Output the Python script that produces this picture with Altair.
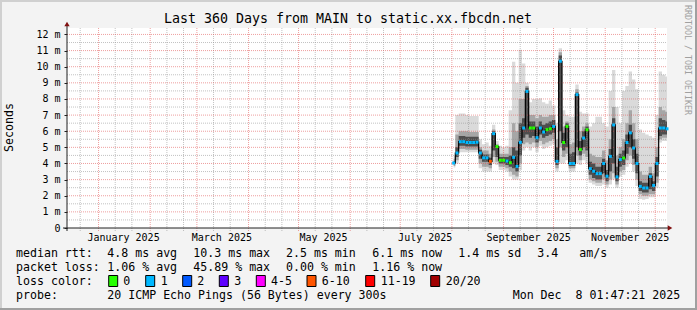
import altair as alt
import pandas as pd

# ---------------- data ----------------
START = pd.Timestamp("2024-12-13 01:47:21")   # graph start (end = Dec 8 2025 01:47:21)
SPAN_DAYS = 360

day = list(range(232, 361, 2))   # days since START (2-day resolution)

median_ms = [4.03, 4.65, 5.35, 5.35, 5.3, 5.3, 5.3, 5.32, 4.65, 4.35,
             4.35, 4.13, 5.85, 5.05, 4.2, 4.2, 4.15, 4.05, 4.38, 3.82,
             5.31, 6.2, 8.47, 6.2, 6.2, 5.6, 6.2, 5.95, 6.1, 6.15,
             6.3, 4.13, 10.34, 5.3, 6.3, 4.0, 4.0, 8.27, 4.86, 5.58,
             6.09, 3.68, 3.52, 3.37, 3.37, 4.0, 3.21, 4.44, 6.39, 3.17,
             4.24, 4.34, 5.3, 5.9, 4.96, 4.0, 2.58, 2.48, 2.48, 3.2,
             2.64, 4.0, 6.2, 6.2, 6.15]

loss = ["1", "1", "1", "1", "1", "1", "1", "1", "1", "1",
        "1", "6-10", "1", "0", "0", "0", "1", "0", "1", "1",
        "1", "1", "1", "0", "0", "1", "1", "1", "0", "0",
        "1", "1", "1", "0", "0", "1", "1", "1", "0", "1",
        "0", "1", "1", "1", "1", "1", "1", "1", "1", "1",
        "1", "0", "1", "1", "1", "1", "1", "1", "1", "1",
        "1", "1", "1", "1", "1"]

smoke_max = [4.5, 7.0, 7.1, 7.1, 7.0, 6.95, 6.95, 6.95, 5.5, 5.2,
             5.3, 5.1, 6.4, 5.4, 5.1, 5.0, 5.1, 7.3, 10.3, 9.0,
             11.05, 10.2, 9.0, 7.8, 8.0, 8.0, 8.05, 7.8, 7.7, 7.9,
             7.6, 6.5, 11.15, 7.3, 7.0, 6.9, 6.9, 8.9, 7.2, 7.1,
             7.1, 6.3, 6.5, 6.9, 6.9, 6.5, 6.3, 8.5, 9.8, 7.5,
             6.5, 8.5, 8.8, 9.7, 9.2, 8.6, 6.1, 5.9, 5.8, 5.7,
             5.6, 7.0, 9.7, 9.5, 9.4]
mid_hi = [4.3, 5.8, 6.0, 6.0, 6.0, 5.95, 5.95, 5.95, 5.0, 4.8,
          4.8, 4.6, 6.1, 5.2, 4.6, 4.6, 4.6, 5.0, 6.5, 6.0,
          8.0, 8.0, 8.8, 7.0, 7.0, 6.8, 7.0, 6.9, 6.9, 7.0,
          7.0, 5.5, 10.9, 6.3, 6.6, 5.2, 5.3, 8.6, 6.0, 6.3,
          6.5, 4.6, 4.5, 4.4, 4.4, 4.8, 4.2, 5.5, 7.5, 4.5,
          5.0, 5.5, 6.5, 7.3, 6.5, 5.5, 3.5, 3.3, 3.3, 3.8,
          3.4, 5.0, 7.5, 7.3, 7.2]
core_hi = [4.15, 5.0, 5.7, 5.7, 5.65, 5.65, 5.65, 5.65, 4.85, 4.55,
           4.55, 4.35, 6.0, 5.1, 4.4, 4.4, 4.4, 4.5, 5.0, 4.8,
           6.5, 6.8, 8.7, 6.6, 6.6, 6.3, 6.6, 6.4, 6.5, 6.6,
           6.7, 5.0, 10.7, 5.9, 6.5, 4.6, 4.7, 8.4, 5.4, 6.0,
           6.3, 4.1, 4.0, 3.8, 3.8, 4.3, 3.6, 4.9, 6.8, 3.8,
           4.6, 4.8, 5.8, 6.4, 5.5, 4.6, 2.9, 2.8, 2.8, 3.4,
           2.9, 4.4, 6.8, 6.7, 6.6]
core_lo = [3.95, 4.4, 5.1, 5.1, 5.05, 5.05, 5.05, 5.05, 4.3, 4.1,
           4.1, 3.9, 4.8, 4.4, 4.0, 4.0, 3.9, 3.8, 3.7, 3.5,
           4.5, 5.6, 5.8, 5.6, 5.7, 5.3, 5.8, 5.6, 5.7, 5.8,
           5.9, 3.9, 6.0, 4.8, 5.0, 3.85, 3.85, 5.0, 4.5, 5.0,
           4.8, 3.3, 3.1, 3.0, 3.0, 3.4, 2.9, 3.5, 4.0, 2.9,
           3.8, 3.9, 4.6, 5.0, 4.3, 3.4, 2.3, 2.2, 2.2, 2.4,
           2.3, 3.2, 5.7, 5.8, 5.8]
mid_lo = [3.85, 4.2, 4.9, 4.9, 4.85, 4.85, 4.85, 4.85, 4.0, 3.8,
          3.8, 3.7, 4.4, 4.1, 3.8, 3.8, 3.7, 3.5, 3.3, 3.2,
          4.0, 5.2, 5.3, 5.2, 5.3, 5.0, 5.4, 5.2, 5.3, 5.4,
          5.5, 3.7, 5.0, 4.4, 4.6, 3.7, 3.7, 4.5, 4.2, 4.6,
          4.4, 3.0, 2.9, 2.8, 2.8, 3.0, 2.7, 3.0, 3.4, 2.7,
          3.5, 3.6, 4.2, 4.5, 3.9, 3.0, 2.1, 2.0, 2.0, 2.1,
          2.1, 2.8, 5.5, 5.6, 5.6]
smoke_min = [3.75, 4.0, 4.7, 4.7, 4.7, 4.7, 4.7, 4.7, 3.7, 3.5,
             3.5, 3.5, 4.0, 3.9, 3.6, 3.6, 3.5, 3.2, 3.0, 3.0,
             3.6, 4.8, 5.0, 4.8, 5.0, 4.7, 5.1, 4.9, 5.0, 5.1,
             5.2, 3.5, 4.0, 4.0, 4.2, 3.5, 3.5, 4.0, 3.9, 4.2,
             4.0, 2.8, 2.7, 2.6, 2.6, 2.7, 2.5, 2.7, 3.0, 2.5,
             3.2, 3.3, 3.8, 4.0, 3.5, 2.6, 1.8, 1.75, 1.8, 1.9,
             1.9, 2.5, 5.3, 5.4, 5.4]

loss_labels = ["0", "1", "2", "3", "4-5", "6-10", "11-19", "20/20"]
loss_colors = ["#26ff00", "#00b8ff", "#0059ff", "#5e00ff", "#ff00ff", "#ff5500", "#ff0000", "#a10000"]

month_label_dates = ["2025-01-16", "2025-03-16", "2025-05-16", "2025-07-16", "2025-09-16", "2025-11-16"]
month_label_text = ["January 2025", "March 2025", "May 2025", "July 2025", "September 2025", "November 2025"]

title_text = "Last 360 Days from MAIN to static.xx.fbcdn.net"
y_title = "Seconds"
watermark = "RRDTOOL / TOBI OETIKER"

stat_rows = ["median rtt:", "packet loss:", "loss color:", "probe:"]
rtt_stats = ["4.8 ms avg", "10.3 ms max", "2.5 ms min", "6.1 ms now", "1.4 ms sd", "3.4", "am/s"]
loss_stats = ["1.06 % avg", "45.89 % max", "0.00 % min", "1.16 % now"]
probe_text = "20 ICMP Echo Pings (56 Bytes) every 300s"
stamp_text = "Mon Dec\u00a0 8 01:47:21 2025"

# ---------------- layout (page pixels) ----------------
OX, OY = 67, 28
W, H = 600, 200
FONT = "DejaVu Sans Mono"
row_y = [254.3, 268.3, 282.3, 296.0]
rtt_x = [107.3, 193.3, 286.0, 372.3, 458.3, 537.3, 579.3]
loss_x = [107.3, 193.3, 286.0, 372.3]
box_x = [108.7, 145.7, 182.7, 219.3, 256.3, 307.0, 365.7, 430.7]
box_lbl_x = [123.3, 160.7, 197.3, 234.3, 271.0, 321.7, 380.7, 445.7]


def days_since(d):
    return (pd.Timestamp(d) - START).total_seconds() / 86400.0


data = pd.DataFrame(dict(day=day, median=median_ms, loss=loss, smax=smoke_max, mhi=mid_hi,
                         chi=core_hi, clo=core_lo, mlo=mid_lo, smin=smoke_min))

xs = alt.Scale(domain=[0, SPAN_DAYS])
ys = alt.Scale(domain=[0, 12.4])
yaxis = alt.Axis(values=list(range(13)),
                 labelExpr="datum.value == 0 ? '0\u00a0\u00a0' : datum.value + ' m'",
                 domain=False, grid=False, ticks=True, tickSize=3, tickColor="#202020",
                 labelFont=FONT, labelFontSize=10, labelColor="#000000", labelPadding=4, title=None)
X = alt.X("day:Q", scale=xs, axis=None)

# grid positions
major_y = list(range(1, 13))
minor_y = [v + 0.5 for v in range(0, 12)]
major_x_dates = [f"2025-{m:02d}-01" for m in range(1, 13)]
minor_x_dates = ["2024-12-21"] + [f"2025-{m:02d}-{d}" for m in range(1, 12) for d in (11, 21)]
major_x = pd.DataFrame({"d": [days_since(s) for s in major_x_dates]})
minor_x = pd.DataFrame({"d": [days_since(s) for s in minor_x_dates]})
major_x = major_x[(major_x.d > 0) & (major_x.d < SPAN_DAYS)]
minor_x = minor_x[(minor_x.d > 0) & (minor_x.d < SPAN_DAYS)]

one = pd.DataFrame({"a": [0]})


def band(lo, hi, color):
    return alt.Chart(data).mark_area(interpolate="step", color=color, clip=True).encode(
        x=X, y=alt.Y(f"{hi}:Q", scale=ys, axis=yaxis), y2=f"{lo}:Q")


smoke_light = band("smin", "smax", "#dadada")
smoke_mid = band("mlo", "mhi", "#a6a6a6")
smoke_core = band("clo", "chi", "#4e4e4e")

grid_style_minor = dict(color="#909090", opacity=0.55, strokeDash=[1, 1], strokeWidth=1)
grid_style_major = dict(color="#e05050", opacity=0.55, strokeDash=[1, 1], strokeWidth=1)

hgrid_minor = alt.Chart(pd.DataFrame({"v": minor_y})).mark_rule(**grid_style_minor).encode(
    y=alt.Y("v:Q", scale=ys, axis=yaxis), x=alt.value(0), x2=alt.value(W))
hgrid_major = alt.Chart(pd.DataFrame({"v": major_y})).mark_rule(**grid_style_major).encode(
    y=alt.Y("v:Q", scale=ys, axis=yaxis), x=alt.value(0), x2=alt.value(W))
vgrid_minor = alt.Chart(minor_x).mark_rule(**grid_style_minor).encode(
    x=alt.X("d:Q", scale=xs, axis=None), y=alt.value(0), y2=alt.value(H + 3))
vgrid_major = alt.Chart(major_x).mark_rule(**grid_style_major).encode(
    x=alt.X("d:Q", scale=xs, axis=None), y=alt.value(0), y2=alt.value(H + 3))

median_line = alt.Chart(data).mark_line(interpolate="step", color="#000000", strokeWidth=1.2, clip=True).encode(
    x=X, y=alt.Y("median:Q", scale=ys, axis=yaxis))
median_dots = alt.Chart(data).mark_square(size=9, opacity=1).encode(
    x=X, y=alt.Y("median:Q", scale=ys, axis=yaxis),
    color=alt.Color("loss:N", scale=alt.Scale(domain=loss_labels, range=loss_colors), legend=None))

# axes lines and arrows
x_axis_line = alt.Chart(one).mark_rule(color="#202020", strokeWidth=1).encode(
    x=alt.value(-4), x2=alt.value(W + 2), y=alt.value(H))
y_axis_line = alt.Chart(one).mark_rule(color="#202020", strokeWidth=1).encode(
    x=alt.value(0), y=alt.value(-3), y2=alt.value(H + 3))
x_arrow = alt.Chart(one).mark_point(shape="triangle-right", filled=True, color="#801010", size=28, opacity=1).encode(
    x=alt.value(W + 3), y=alt.value(H))
y_arrow = alt.Chart(one).mark_point(shape="triangle-up", filled=True, color="#801010", size=28, opacity=1).encode(
    x=alt.value(0), y=alt.value(-4))

# month labels on the x scale
month_df = pd.DataFrame({"d": [days_since(s) for s in month_label_dates], "t": month_label_text})
month_labels = alt.Chart(month_df).mark_text(font=FONT, fontSize=10, color="#000000", baseline="middle",
                                             align="center").encode(
    x=alt.X("d:Q", scale=xs, axis=None), y=alt.value(237.7 - OY), text="t:N")

# legend / stats texts (page pixel layout)
rows = []
for lbl, yy in zip(stat_rows, row_y):
    rows.append((lbl, 16, yy))
for t, xx in zip(rtt_stats, rtt_x):
    rows.append((t, xx, row_y[0]))
for t, xx in zip(loss_stats, loss_x):
    rows.append((t, xx, row_y[1]))
for t, xx in zip(loss_labels, box_lbl_x):
    rows.append((t, xx, row_y[2]))
rows.append((probe_text, 107.3, row_y[3]))
rows.append((stamp_text, 512.7, row_y[3]))
txt_df = pd.DataFrame(rows, columns=["t", "px", "py"])
txt_df["px"] = txt_df["px"] - OX
txt_df["py"] = txt_df["py"] - OY
legend_text = alt.Chart(txt_df).mark_text(font=FONT, fontSize=11.6, color="#000000", align="left",
                                          baseline="middle").encode(
    x=alt.X("px:Q", scale=None), y=alt.Y("py:Q", scale=None), text="t:N")

box_df = pd.DataFrame({"x1": [b - OX for b in box_x], "x2": [b + 9 - OX for b in box_x],
                       "y1": [275.5 - OY] * len(box_x), "y2": [286.5 - OY] * len(box_x), "c": loss_colors})
legend_boxes = alt.Chart(box_df).mark_rect(stroke="#000000", strokeWidth=1).encode(
    x=alt.X("x1:Q", scale=None), x2="x2:Q", y=alt.Y("y1:Q", scale=None), y2="y2:Q",
    color=alt.Color("c:N", scale=None))

title = alt.Chart(one).mark_text(font=FONT, fontSize=13.3, color="#000000", align="center",
                                 baseline="middle", text=title_text).encode(
    x=alt.value(348 - OX), y=alt.value(18.5 - OY))
ytitle = alt.Chart(one).mark_text(font=FONT, fontSize=11.6, color="#000000", align="center",
                                  baseline="middle", angle=270, text=y_title).encode(
    x=alt.value(10 - OX), y=alt.value(127.5 - OY))
wmark = alt.Chart(one).mark_text(font=FONT, fontSize=8.3, color="#a0a0a0", align="center",
                                 baseline="middle", angle=90, text=watermark).encode(
    x=alt.value(686.5 - OX), y=alt.value(60 - OY))

# frame shading
shade_a = "#d0d0d0"
shade_b = "#a0a0a0"
frame_top = alt.Chart(one).mark_rule(color=shade_a, strokeWidth=2).encode(
    x=alt.value(-OX), x2=alt.value(697 - OX), y=alt.value(1 - OY))
frame_left = alt.Chart(one).mark_rule(color=shade_a, strokeWidth=2).encode(
    x=alt.value(1 - OX), y=alt.value(-OY), y2=alt.value(310 - OY))
frame_right = alt.Chart(one).mark_rule(color=shade_b, strokeWidth=2).encode(
    x=alt.value(696 - OX), y=alt.value(-OY), y2=alt.value(310 - OY))
frame_bottom = alt.Chart(one).mark_rule(color=shade_b, strokeWidth=2).encode(
    x=alt.value(-OX), x2=alt.value(697 - OX), y=alt.value(309 - OY))

chart = alt.layer(
    smoke_light, smoke_mid, smoke_core,
    hgrid_minor, vgrid_minor, hgrid_major, vgrid_major,
    median_line, median_dots,
    x_axis_line, y_axis_line, x_arrow, y_arrow,
    month_labels, legend_boxes, legend_text, title, ytitle, wmark,
    frame_top, frame_left, frame_right, frame_bottom,
).properties(
    width=W, height=H,
    padding={"left": OX, "top": OY, "right": 697 - OX - W, "bottom": 310 - OY - H},
    autosize=alt.AutoSizeParams(type="none"),
    background="#f3f3f3",
).configure_view(fill="#ffffff", stroke=None)

chart.save("out.html", embed_options={"renderer": "svg", "actions": False})
